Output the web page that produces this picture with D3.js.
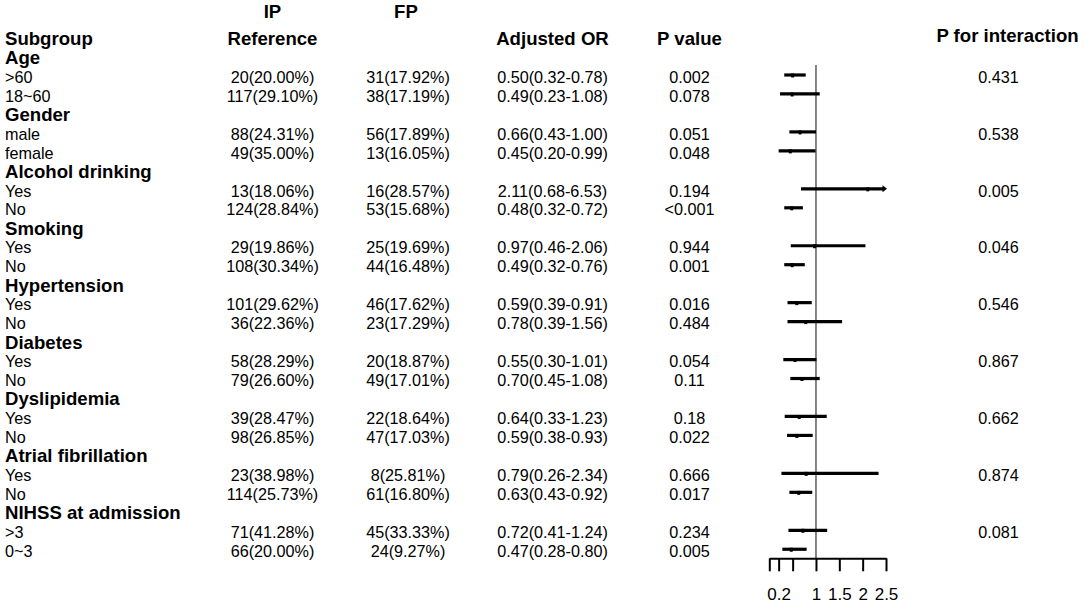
<!DOCTYPE html>
<html>
<head>
<meta charset="utf-8">
<script src="https://cdn.jsdelivr.net/npm/d3@7"></script>
<style>
  html, body { margin: 0; padding: 0; background: #fff; }
  svg { display: block; }
  text { font-family: "Liberation Sans", Arial, sans-serif; fill: #000; }
</style>
</head>
<body>
<svg id="chart" width="1084" height="605"></svg>
<script>
// ---- data ----
const groupNames = ["Age", "Gender", "Alcohol drinking", "Smoking", "Hypertension",
  "Diabetes", "Dyslipidemia", "Atrial fibrillation", "NIHSS at admission"];
const subLabels = [">60", "18~60", "male", "female", "Yes", "No", "Yes", "No", "Yes", "No",
  "Yes", "No", "Yes", "No", "Yes", "No", ">3", "0~3"];
const ipText = ["20(20.00%)", "117(29.10%)", "88(24.31%)", "49(35.00%)", "13(18.06%)", "124(28.84%)",
  "29(19.86%)", "108(30.34%)", "101(29.62%)", "36(22.36%)", "58(28.29%)", "79(26.60%)",
  "39(28.47%)", "98(26.85%)", "23(38.98%)", "114(25.73%)", "71(41.28%)", "66(20.00%)"];
const fpText = ["31(17.92%)", "38(17.19%)", "56(17.89%)", "13(16.05%)", "16(28.57%)", "53(15.68%)",
  "25(19.69%)", "44(16.48%)", "46(17.62%)", "23(17.29%)", "20(18.87%)", "49(17.01%)",
  "22(18.64%)", "47(17.03%)", "8(25.81%)", "61(16.80%)", "45(33.33%)", "24(9.27%)"];
const orEst  = [0.50, 0.49, 0.66, 0.45, 2.11, 0.48, 0.97, 0.49, 0.59, 0.78, 0.55, 0.70, 0.64, 0.59, 0.79, 0.63, 0.72, 0.47];
const orLow  = [0.32, 0.23, 0.43, 0.20, 0.68, 0.32, 0.46, 0.32, 0.39, 0.39, 0.30, 0.45, 0.33, 0.38, 0.26, 0.43, 0.41, 0.28];
const orHigh = [0.78, 1.08, 1.00, 0.99, 6.53, 0.72, 2.06, 0.76, 0.91, 1.56, 1.01, 1.08, 1.23, 0.93, 2.34, 0.92, 1.24, 0.80];
const pValue = ["0.002", "0.078", "0.051", "0.048", "0.194", "<0.001", "0.944", "0.001", "0.016", "0.484",
  "0.054", "0.11", "0.18", "0.022", "0.666", "0.017", "0.234", "0.005"];
const pInteraction = ["0.431", "0.538", "0.005", "0.046", "0.546", "0.867", "0.662", "0.874", "0.081"];
const axisTicks = [0, 0.2, 0.5, 1, 1.5, 2, 2.5];
const axisLabels = ["", "0.2", "", "1", "1.5", "2", "2.5"];

// ---- layout ----
const svg = d3.select("#chart");
const nRows = 28; // header row 0 + 27 rows
const yRow = d3.scaleLinear().domain([0, nRows - 1]).range([37.06, 37.06 + 18.97 * (nRows - 1)]);
const x = d3.scaleLinear().domain([0, 2.5]).range([769.3, 886]);
const txtOff = 7.7;
const boldSize = "18.6px", normSize = "16.2px";

const col = { label: 5, ip: 272.5, fp: 408, or: 552.5, p: 689.5, pint: 998.5 };

const subRow = k => 1 + Math.floor(k / 2) * 3 + 1 + (k % 2);
const groupRow = g => 1 + 3 * g;

// header
const hdr = svg.append("g").attr("font-weight", "bold").style("font-size", boldSize);
hdr.append("text").attr("x", col.ip).attr("y", 18).attr("text-anchor", "middle").text("IP");
hdr.append("text").attr("x", 406).attr("y", 18).attr("text-anchor", "middle").text("FP");
const h0 = yRow(0) + txtOff + 0.3;
hdr.append("text").attr("x", col.label).attr("y", h0).text("Subgroup");
hdr.append("text").attr("x", col.ip).attr("y", h0).attr("text-anchor", "middle").text("Reference");
hdr.append("text").attr("x", col.or).attr("y", h0).attr("text-anchor", "middle").text("Adjusted OR");
hdr.append("text").attr("x", col.p).attr("y", h0).attr("text-anchor", "middle").text("P value");
hdr.append("text").attr("x", 1007.5).attr("y", yRow(0) + txtOff - 3).attr("text-anchor", "middle").text("P for interaction");

// group labels
svg.append("g").attr("font-weight", "bold").style("font-size", boldSize)
  .selectAll("text").data(groupNames).join("text")
  .attr("x", col.label).attr("y", (d, i) => yRow(groupRow(i)) + txtOff + 0.3)
  .text(d => d);

// subgroup rows
const body = svg.append("g").style("font-size", normSize);
const idx = d3.range(subLabels.length);
body.selectAll("text.lab").data(idx).join("text").attr("class", "lab")
  .attr("x", col.label).attr("y", k => yRow(subRow(k)) + txtOff).text(k => subLabels[k]);
body.selectAll("text.ip").data(idx).join("text").attr("class", "ip")
  .attr("x", col.ip).attr("y", k => yRow(subRow(k)) + txtOff).attr("text-anchor", "middle").text(k => ipText[k]);
body.selectAll("text.fp").data(idx).join("text").attr("class", "fp")
  .attr("x", col.fp).attr("y", k => yRow(subRow(k)) + txtOff).attr("text-anchor", "middle").text(k => fpText[k]);
body.selectAll("text.or").data(idx).join("text").attr("class", "or")
  .attr("x", col.or).attr("y", k => yRow(subRow(k)) + txtOff).attr("text-anchor", "middle")
  .text(k => `${orEst[k].toFixed(2)}(${orLow[k].toFixed(2)}-${orHigh[k].toFixed(2)})`);
body.selectAll("text.pv").data(idx).join("text").attr("class", "pv")
  .attr("x", col.p).attr("y", k => yRow(subRow(k)) + txtOff).attr("text-anchor", "middle").text(k => pValue[k]);
body.selectAll("text.pi").data(pInteraction).join("text").attr("class", "pi")
  .attr("x", col.pint).attr("y", (d, g) => yRow(subRow(g * 2)) + txtOff).attr("text-anchor", "middle").text(d => d);

// reference line at OR = 1
const axisY = 558.3;
svg.append("line").attr("x1", x(1)).attr("x2", x(1)).attr("y1", 65).attr("y2", axisY)
  .attr("stroke", "#444").attr("stroke-width", 1.3);

// CI lines
const xmax = x.domain()[1];
const fg = svg.append("g");
fg.selectAll("line.ci").data(idx).join("line").attr("class", "ci")
  .attr("x1", k => x(orLow[k])).attr("x2", k => x(Math.min(orHigh[k], xmax)) - (orHigh[k] > xmax ? 2 : 0))
  .attr("y1", k => yRow(subRow(k))).attr("y2", k => yRow(subRow(k)))
  .attr("stroke", "#000").attr("stroke-width", 3.2);
// arrows for clipped CIs
fg.selectAll("path.arr").data(idx.filter(k => orHigh[k] > xmax)).join("path").attr("class", "arr")
  .attr("d", k => {
    const tx = x(xmax) + 1, ty = yRow(subRow(k));
    return `M${tx},${ty} L${tx - 4.5},${ty - 3.5} L${tx - 4.5},${ty + 3.5} Z`;
  }).attr("fill", "#000");
// point estimates
fg.selectAll("rect.pt").data(idx).join("rect").attr("class", "pt")
  .attr("x", k => x(orEst[k]) - 1.5).attr("y", k => yRow(subRow(k)) - 1.5)
  .attr("width", 3).attr("height", 4).attr("fill", "#000");

// x axis
const axis = d3.axisBottom(x).tickValues(axisTicks)
  .tickFormat((d, i) => axisLabels[i]).tickSize(13).tickPadding(17).tickSizeOuter(0);
const ag = svg.append("g").attr("transform", `translate(0,${axisY})`).call(axis);
ag.select(".domain").attr("stroke", "#000").attr("stroke-width", 2);
ag.selectAll(".tick line").attr("stroke", "#000").attr("stroke-width", 2);
ag.selectAll(".tick text").style("font-size", "17px")
  .style("font-family", '"Liberation Sans", Arial, sans-serif').attr("fill", "#000");
</script>
</body>
</html>
